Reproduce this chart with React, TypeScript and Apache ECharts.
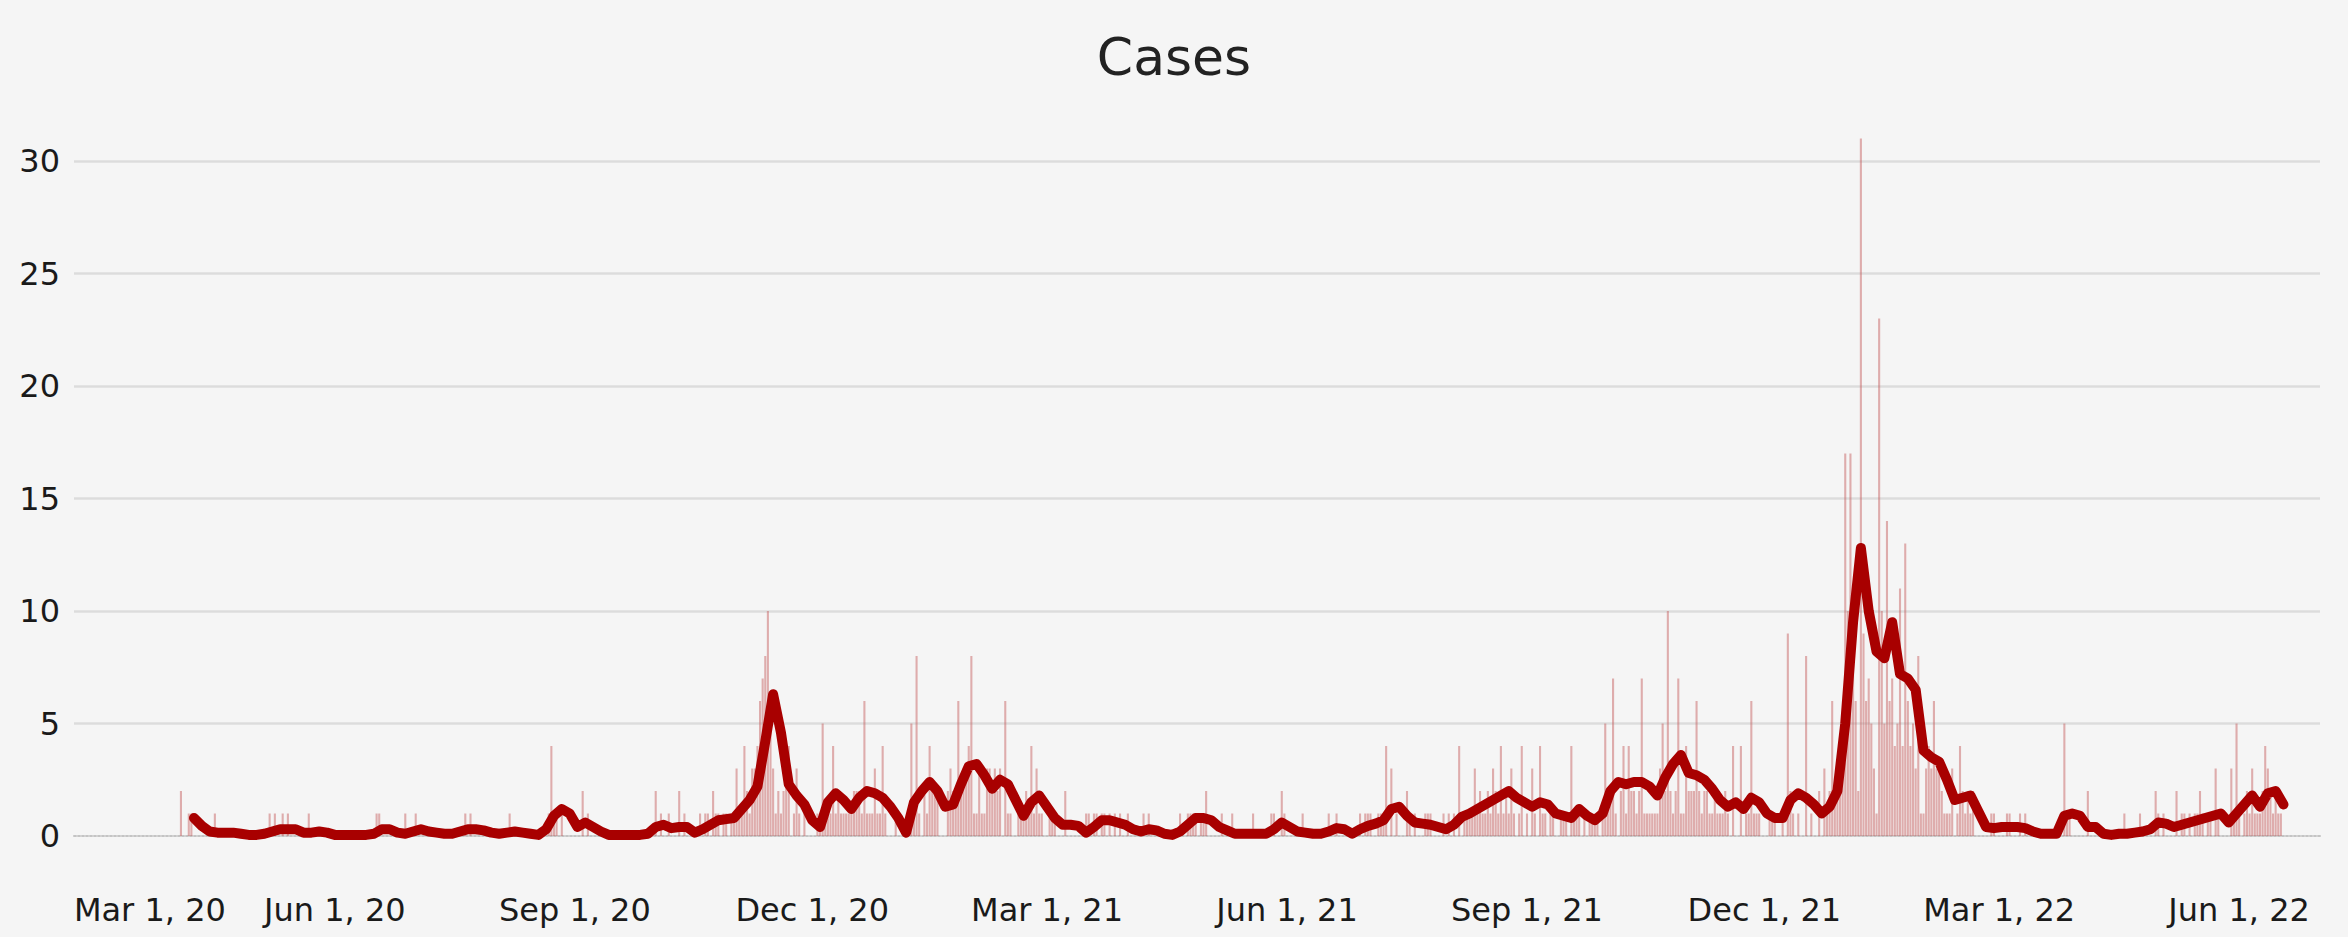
import React, { useEffect, useRef } from "react";
import * as echarts from "echarts";

// Daily new cases, one array per month (index 0 = day 1 of the month)
const cases2020Apr = [0,0,2,0,0,1,1,0,0,0, 0,0,0,0,0,1,0,0,0,0, 0,0,0,0,0,0,0,0,0,0];
const cases2020May = [0,0,0,0,0,0,1,0,1,0, 0,1,0,1,0,0,0,0,0,0, 0,1,0,0,0,0,0,0,0,0, 0];
const cases2020Jun = [0,0,0,0,0,0,0,0,0,0, 0,0,0,0,0,0,1,1,0,0, 0,0,0,0,0,0,0,1,0,0];
const cases2020Jul = [0,1,0,0,0,0,0,0,0,0, 0,0,0,0,0,0,0,0,0,0, 1,0,1,0,0,0,0,0,0,0, 0];
const cases2020Aug = [0,0,0,0,0,0,1,0,0,0, 0,0,0,0,0,0,0,0,0,0, 0,1,4,1,1,0,1,0,0,0, 0];
const cases2020Sep = [0,0,0,2,0,1,0,0,0,0, 0,0,0,0,0,0,0,0,0,0, 0,0,0,0,0,0,0,0,0,0];
const cases2020Oct = [0,2,0,1,0,0,1,0,0,0, 2,0,1,0,0,0,0,0,1,0, 1,1,0,2,1,1,0,1,1,0, 1];
const cases2020Nov = [1,3,1,1,4,2,1,3,3,4, 6,7,8,10,6,3,1,2,1,2, 3,4,0,1,3,1,0,1,0,0];
const cases2020Dec = [0,0,1,1,5,1,1,1,4,1, 2,1,1,1,1,1,2,2,2,1, 6,1,1,1,3,1,1,4,1,0, 0];
const cases2021Jan = [0,1,0,0,0,0,1,5,1,8, 1,0,2,1,4,2,2,2,0,0, 0,2,3,2,2,6,2,3,3,4, 8];
const cases2021Feb = [1,1,3,1,1,3,3,2,3,2, 3,0,6,1,1,0,0,1,1,1, 2,1,4,1,3,1,1,0];
const cases2021Mar = [0,1,1,1,0,0,0,2,0,0, 0,0,0,0,0,1,1,0,1,1, 0,1,1,0,1,0,1,0,1,0, 0];
const cases2021Apr = [1,0,0,0,0,0,1,0,1,0, 0,0,0,0,0,0,0,0,0,0, 1,0,0,1,1,1,1,0,1,1];
const cases2021May = [2,0,0,0,0,0,1,0,0,0, 1,0,0,0,0,0,0,0,1,0, 0,0,0,0,0,1,1,0,0,2, 1];
const cases2021Jun = [0,0,0,0,0,0,1,0,0,0, 0,0,0,0,0,0,1,0,0,1, 0,0,0,0,0,0,0,0,1,0];
const cases2021Jul = [1,1,1,0,0,1,1,1,4,0, 3,0,1,0,0,0,2,1,0,1, 0,0,0,1,1,1,0,0,0,0, 1];
const cases2021Aug = [0,1,0,1,0,4,0,1,1,1, 1,3,1,2,1,1,2,1,3,2, 1,4,1,2,1,3,1,0,1,4, 0];
const cases2021Sep = [1,0,3,1,0,4,1,1,0,1, 1,0,0,1,1,1,0,4,1,1, 1,0,1,0,1,1,1,1,0,1];
const cases2021Oct = [5,2,2,7,1,0,2,4,1,4, 2,2,1,2,7,1,1,1,1,1, 1,3,5,2,10,2,1,2,7,1, 1];
const cases2021Nov = [4,2,2,2,6,2,1,2,2,1, 1,2,1,1,1,2,1,0,4,0, 0,4,0,1,1,6,1,1,1,0];
const cases2021Dec = [0,0,1,1,1,0,0,1,0,9, 2,1,0,1,0,0,8,0,1,0, 0,2,0,3,1,2,6,2,2,3, 4];
const cases2022Jan = [17,10,17,8,6,2,31,9,6,7, 5,3,1,23,10,5,14,6,7,4, 5,11,4,13,6,4,5,3,8,1, 1];
const cases2022Feb = [3,4,3,6,3,3,2,1,1,1, 3,0,1,4,2,1,2,1,2,0, 0,0,0,0,0,1,1,0];
const cases2022Mar = [0,0,0,1,1,0,0,0,1,0, 1,0,0,0,0,0,0,0,0,0, 0,0,0,0,0,5,1,1,0,0, 0];
const cases2022Apr = [0,0,0,2,0,0,0,0,0,0, 0,0,0,0,0,0,0,1,0,0, 0,0,0,1,0,0,0,0,0,2];
const cases2022May = [1,0,1,0,0,0,0,2,0,1, 1,0,1,0,1,1,2,1,0,1, 1,0,3,1,0,0,0,0,3,1, 5];
const cases2022Jun = [1,0,1,2,1,3,1,1,1,2, 4,3,2,1,2,1,1,0];

const monthlyCases: [number, number, number[]][] = [
  [2020, 4, cases2020Apr], [2020, 5, cases2020May], [2020, 6, cases2020Jun],
  [2020, 7, cases2020Jul], [2020, 8, cases2020Aug], [2020, 9, cases2020Sep],
  [2020, 10, cases2020Oct], [2020, 11, cases2020Nov], [2020, 12, cases2020Dec],
  [2021, 1, cases2021Jan], [2021, 2, cases2021Feb], [2021, 3, cases2021Mar],
  [2021, 4, cases2021Apr], [2021, 5, cases2021May], [2021, 6, cases2021Jun],
  [2021, 7, cases2021Jul], [2021, 8, cases2021Aug], [2021, 9, cases2021Sep],
  [2021, 10, cases2021Oct], [2021, 11, cases2021Nov], [2021, 12, cases2021Dec],
  [2022, 1, cases2022Jan], [2022, 2, cases2022Feb], [2022, 3, cases2022Mar],
  [2022, 4, cases2022Apr], [2022, 5, cases2022May], [2022, 6, cases2022Jun],
];

// 7-day average, one reading every 3 days from 2020-04-08
const avgStart: [number, number, number] = [2020, 4, 8];
const avgStepDays = 3;
const avg2020 = [
  0.8,0.45,0.2,0.15,0.15,0.15,0.1,0.05,0.05,0.1,
  0.2,0.3,0.3,0.3,0.15,0.15,0.2,0.15,0.05,0.05,
  0.05,0.05,0.05,0.1,0.3,0.3,0.15,0.1,0.2,0.3,
  0.2,0.15,0.1,0.1,0.2,0.3,0.3,0.25,0.15,0.1,
  0.15,0.2,0.15,0.1,0.05,0.3,0.9,1.2,1.0,0.4,
  0.6,0.4,0.2,0.05,0.05,0.05,0.05,0.05,0.1,0.4,
  0.5,0.35,0.4,0.4,0.15,0.3,0.5,0.7,0.75,0.8,
  1.2,1.6,2.2,4.2,6.3,4.6,2.3,1.8,1.4,0.7,
  0.4,1.5,1.9,1.6,1.2,1.7,2.0,1.9,1.7,1.3,
];
const avg2021 = [
  0.8,0.15,1.5,2.0,2.4,2.0,1.3,1.4,2.3,3.1,
  3.2,2.7,2.1,2.5,2.3,1.6,0.9,1.5,1.8,1.3,
  0.8,0.5,0.5,0.45,0.15,0.4,0.7,0.7,0.6,0.5,
  0.3,0.2,0.3,0.25,0.1,0.05,0.2,0.5,0.8,0.8,
  0.7,0.4,0.25,0.1,0.1,0.1,0.1,0.1,0.3,0.6,
  0.4,0.2,0.15,0.1,0.1,0.2,0.35,0.3,0.1,0.3,
  0.45,0.55,0.7,1.2,1.3,0.9,0.6,0.55,0.5,0.4,
  0.3,0.5,0.85,1.0,1.2,1.4,1.6,1.8,2.0,1.7,
  1.5,1.3,1.5,1.4,1.0,0.9,0.8,1.2,0.9,0.7,
  1.0,2.0,2.4,2.3,2.4,2.4,2.2,1.8,2.6,3.2,
  3.6,2.8,2.7,2.5,2.1,1.6,1.3,1.5,1.2,1.7,
  1.5,1.0,0.8,0.8,1.6,1.9,1.7,1.4,1.0,1.3,
  2.0,
];
const avg2022 = [
  5.0,9.5,12.8,10.0,8.2,7.9,9.5,7.2,7.0,6.5,
  3.8,3.5,3.3,2.5,1.6,1.7,1.8,1.1,0.4,0.35,
  0.4,0.4,0.4,0.35,0.2,0.1,0.1,0.1,0.9,1.0,
  0.9,0.4,0.4,0.1,0.05,0.1,0.1,0.15,0.2,0.3,
  0.6,0.55,0.4,0.5,0.6,0.7,0.8,0.9,1.0,0.6,
  1.0,1.4,1.8,1.3,1.9,2.0,1.4,
];

// x-axis tick dates (year, month, day)
const tickDates: [number, number, number][] = [
  [2020, 3, 1], [2020, 6, 1], [2020, 9, 1], [2020, 12, 1],
  [2021, 3, 1], [2021, 6, 1], [2021, 9, 1], [2021, 12, 1],
  [2022, 3, 1], [2022, 6, 1],
];
const monthNames = ["Jan","Feb","Mar","Apr","May","Jun","Jul","Aug","Sep","Oct","Nov","Dec"];
const axisMinDate: [number, number, number] = [2020, 2, 22];
const axisMaxDate: [number, number, number] = [2022, 7, 2];

const DAY = 86400000;
const utc = (d: [number, number, number]) => Date.UTC(d[0], d[1] - 1, d[2]);

export default function App() {
  const ref = useRef<HTMLDivElement>(null);

  useEffect(() => {
    document.body.style.margin = "0";
    if (!ref.current) return;
    const chart = echarts.init(ref.current, undefined, { renderer: "svg" });

    const barData: [number, number][] = [];
    monthlyCases.forEach(([y, m, vals]) => {
      vals.forEach((v, i) => barData.push([Date.UTC(y, m - 1, i + 1), v]));
    });
    const avgValues = [...avg2020, ...avg2021, ...avg2022];
    const t0 = utc(avgStart);
    const lineData = avgValues.map((v, i) => [t0 + i * avgStepDays * DAY, v]);
    const ticks = tickDates.map(utc);
    const fmt = (val: number) => {
      const d = new Date(val);
      return `${monthNames[d.getUTCMonth()]} ${d.getUTCDate()}, ${String(d.getUTCFullYear()).slice(2)}`;
    };

    const font = "DejaVu Sans";
    chart.setOption({
      animation: false,
      backgroundColor: "#f5f5f5",
      title: {
        text: "Cases",
        left: "center",
        top: 26,
        textStyle: { fontFamily: font, fontSize: 52, fontWeight: "normal", color: "#222" },
      },
      grid: { left: 74, right: 28, top: 48.5, bottom: 101 },
      xAxis: {
        type: "value",
        min: utc(axisMinDate),
        max: utc(axisMaxDate),
        axisLine: { show: true, onZero: true, lineStyle: { color: "#c4c4c4", type: "dotted", width: 2 } },
        axisTick: { show: false },
        splitLine: { show: false },
        axisLabel: {
          customValues: ticks,
          margin: 58,
          fontSize: 32,
          fontFamily: font,
          color: "#1a1a1a",
          formatter: (val: number) => {
            const s = fmt(val);
            return val === ticks[0] ? `{first|${s}}` : s;
          },
          rich: {
            first: { fontSize: 32, fontFamily: font, color: "#1a1a1a", padding: [0, 0, 0, 110] },
          },
        },
      },
      yAxis: {
        type: "value",
        min: 0,
        max: 35,
        interval: 5,
        axisLine: { show: false },
        axisTick: { show: false },
        axisLabel: { showMaxLabel: false, margin: 14, fontSize: 32, fontFamily: font, color: "#1a1a1a" },
        splitLine: {
          showMinLine: false,
          showMaxLine: false,
          lineStyle: { color: "#dcdcdc", width: 2.5 },
        },
      },
      series: [
        {
          type: "bar",
          data: barData,
          barWidth: 2.1,
          silent: true,
          itemStyle: { color: "rgba(196, 85, 85, 0.45)" },
        },
        {
          type: "line",
          data: lineData,
          showSymbol: false,
          silent: true,
          z: 3,
          lineStyle: { color: "#a80000", width: 10, cap: "round", join: "round" },
          itemStyle: { color: "#a80000" },
        },
      ],
    });
    return () => chart.dispose();
  }, []);

  return <div ref={ref} style={{ width: 2348, height: 937, background: "#f5f5f5" }} />;
}
